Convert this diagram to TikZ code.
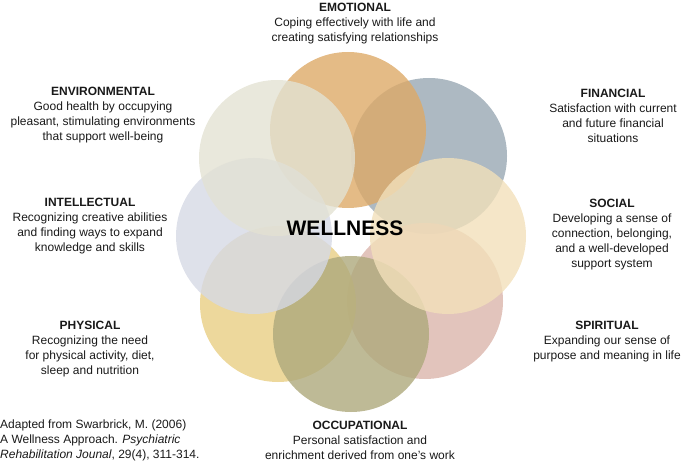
\documentclass[tikz,border=0pt]{standalone}
\usepackage{fontspec}
\setmainfont{Liberation Sans}
\usepackage{tikz}

\definecolor{emo}{HTML}{DDAA68}
\definecolor{fin}{HTML}{98A7B3}
\definecolor{soc}{HTML}{F2E0BA}
\definecolor{spi}{HTML}{DBB5AB}
\definecolor{occ}{HTML}{AEA97C}
\definecolor{phy}{HTML}{E8CE83}
\definecolor{int}{HTML}{D6D9E5}
\definecolor{env}{HTML}{E3E2D3}

\tikzset{
  ring/.style={circle, minimum size=156pt, inner sep=0pt, fill opacity=0.8},
  blurb/.style={align=center, inner sep=0pt, text=black!90,
    font=\fontsize{12}{15}\selectfont}
}

\begin{document}
\begin{tikzpicture}[x=1pt, y=-1pt]

          \useasboundingbox (0,0) rectangle (685,462);

          \node[ring, fill=fin] (C2) at (429,156) {};
          \node[ring, fill=emo] (C1) at (348,130) {};
          \node[ring, fill=spi] (C4) at (425,301) {};
          \node[ring, fill=phy] (C6) at (278,304) {};
          \node[ring, fill=occ] (C5) at (351,334) {};
          \node[ring, fill=soc] (C3) at (448,236) {};
          \node[ring, fill=int] (C7) at (254,236) {};
          \node[ring, fill=env] (C8) at (277,158) {};

          \node[font=\fontsize{21}{21}\selectfont\bfseries] (W) at (345,228) {WELLNESS};

          % labels round the ring
          \node[blurb] (L1) at (355,24) {\textbf{EMOTIONAL}\\Coping effectively with life and\\creating satisfying relationships};
          \node[blurb] (L2) at (613,115.5) {\textbf{FINANCIAL}\\Satisfaction with current\\and future financial\\situations};
          \node[blurb] (L3) at (612,234.5) {\textbf{SOCIAL}\\Developing a sense of\\connection, belonging,\\and a well-developed\\support system};
          \node[blurb] (L4) at (607,342) {\textbf{SPIRITUAL}\\Expanding our sense of\\purpose and meaning in life};
          \node[blurb] (L5) at (360,440) {\textbf{OCCUPATIONAL}\\Personal satisfaction and\\enrichment derived from one's work};
          \node[blurb] (L6) at (90,349.5) {\textbf{PHYSICAL}\\Recognizing the need\\for physical activity, diet,\\sleep and nutrition};
          \node[blurb] (L7) at (90,226.5) {\textbf{INTELLECTUAL}\\Recognizing creative abilities\\and finding ways to expand\\knowledge and skills};
          \node[blurb] (L8) at (103,115.5) {\textbf{ENVIRONMENTAL}\\Good health by occupying\\pleasant, stimulating environments\\that support well-being};

          \node[blurb, align=left, anchor=west] (S) at (0,440) {Adapted from Swarbrick, M. (2006)\\A Wellness Approach. \textit{Psychiatric}\\\textit{Rehabilitation Jounal}, 29(4), 311-314.};

        \end{tikzpicture}
\end{document}
